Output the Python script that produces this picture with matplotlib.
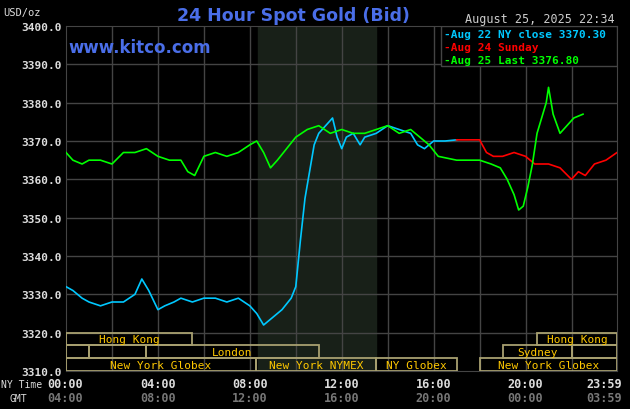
import matplotlib
matplotlib.use("Agg")
import matplotlib.pyplot as plt
from matplotlib.patches import Rectangle

# Aug 22 NY close (blue)
blue_h = [0, 0.3, 0.7, 1.0, 1.5, 2.0, 2.5, 3.0, 3.3, 3.6, 4.0, 4.3, 4.7, 5.0, 5.5, 6.0, 6.5, 7.0, 7.5, 8.0, 8.3, 8.6, 9.0, 9.4, 9.8, 10.0, 10.2, 10.4, 10.6, 10.8, 11.0, 11.3, 11.6, 11.8, 12.0, 12.2, 12.5, 12.8, 13.0, 13.5, 14.0, 14.5, 15.0, 15.3, 15.6, 16.0, 16.5, 17.0]
blue_v = [3332, 3331, 3329, 3328, 3327, 3328, 3328, 3330, 3334, 3331, 3326, 3327, 3328, 3329, 3328, 3329, 3329, 3328, 3329, 3327, 3325, 3322, 3324, 3326, 3329, 3332, 3344, 3355, 3362, 3369, 3372, 3374, 3376, 3371, 3368, 3371, 3372, 3369, 3371, 3372, 3374, 3373, 3372, 3369, 3368, 3370, 3370, 3370.3]
# Aug 24 Sunday (red)
red_h = [17.0, 18.0, 18.3, 18.6, 19.0, 19.5, 20.0, 20.4, 20.7, 21.0, 21.5, 22.0, 22.3, 22.6, 23.0, 23.5, 23.98]
red_v = [3370.3, 3370.3, 3367, 3366, 3366, 3367, 3366, 3364, 3364, 3364, 3363, 3360, 3362, 3361, 3364, 3365, 3367]
# Aug 25 Last (green)
green_h = [0, 0.3, 0.7, 1.0, 1.5, 2.0, 2.5, 3.0, 3.5, 4.0, 4.5, 5.0, 5.3, 5.6, 6.0, 6.5, 7.0, 7.5, 8.0, 8.3, 8.6, 8.9, 9.2, 9.6, 10.0, 10.5, 11.0, 11.5, 12.0, 12.5, 13.0, 13.5, 14.0, 14.5, 15.0, 15.4, 15.8, 16.2, 17.0, 17.5, 18.0, 18.5, 18.9, 19.2, 19.5, 19.7, 19.9, 20.1, 20.3, 20.5, 20.7, 20.9, 21.0, 21.2, 21.5, 21.8, 22.1, 22.5]
green_v = [3367, 3365, 3364, 3365, 3365, 3364, 3367, 3367, 3368, 3366, 3365, 3365, 3362, 3361, 3366, 3367, 3366, 3367, 3369, 3370, 3367, 3363, 3365, 3368, 3371, 3373, 3374, 3372, 3373, 3372, 3372, 3373, 3374, 3372, 3373, 3371, 3369, 3366, 3365, 3365, 3365, 3364, 3363, 3360, 3356, 3352, 3353, 3358, 3364, 3372, 3376, 3380, 3384, 3377, 3372, 3374, 3376, 3377]

yticks = [3310, 3320, 3330, 3340, 3350, 3360, 3370, 3380, 3390, 3400]
ny_labels = ["00:00", "04:00", "08:00", "12:00", "16:00", "20:00", "23:59"]
gmt_labels = ["04:00", "08:00", "12:00", "16:00", "20:00", "00:00", "03:59"]
label_hours = [0, 4, 8, 12, 16, 20, 23.98]

# sessions: (row, start, end, label)
sessions = [
    (0, 0, 5.5, "Hong Kong"), (0, 20.5, 24, "Hong Kong"),
    (1, 0, 1, ""), (1, 1, 3.5, ""), (1, 3.5, 11.0, "London"),
    (1, 19.0, 22.0, "Sydney"), (1, 22.0, 24, ""),
    (2, 0, 8.25, "New York Globex"), (2, 8.25, 13.5, "New York NYMEX"),
    (2, 13.5, 17.0, "NY Globex"), (2, 18.0, 24, "New York Globex"),
]

mono = "DejaVu Sans Mono"
fig = plt.figure(figsize=(6.3, 4.1), dpi=100, facecolor="black")
ax = fig.add_axes([66/630, 1-372/410, (617-66)/630, (372-27)/410])
ax.set_facecolor("black")
X1 = 23.98
ax.set_xlim(0, X1)
ax.set_ylim(3310, 3400)
ax.axvspan(8.35, 13.5, color="#182018", zorder=0)
for h in range(2, 24, 2):
    ax.axvline(h, color="#444444", lw=1, zorder=1)
for v in yticks[1:-1]:
    ax.axhline(v, color="#444444", lw=1, zorder=1)
for s in ax.spines.values():
    s.set_color("#444444")
ax.set_xticks([])
ax.set_yticks(yticks)
ax.set_yticklabels([f"{v:.1f}" for v in yticks], color="#dddddd", fontsize=8,
                   fontfamily=mono, fontweight="bold")
ax.tick_params(axis="y", length=0, pad=3)

rowh = 10/3
for row, a, b, lab in sessions:
    y0 = 3320 - (row+1)*rowh
    ax.add_patch(Rectangle((a, y0), min(b, X1)-a, rowh, fill=False, ec="#a8a070", lw=1.3, zorder=3))
    if lab:
        ax.text((a+min(b, X1))/2, y0+rowh/2, lab, color="#ffc800", fontsize=8,
                fontfamily=mono, ha="center", va="center", zorder=4)

ax.plot(blue_h, blue_v, color="#00c8ff", lw=1.2, zorder=5)
ax.plot(red_h, red_v, color="#ff0000", lw=1.2, zorder=5)
ax.plot(green_h, green_v, color="#00ff00", lw=1.2, zorder=6)

# legend box
ax.add_patch(Rectangle((16.3, 3389.6), X1-16.3, 10.4, fc="black", ec="#444444", lw=1, zorder=7))
leg = [("-Aug 22 NY close 3370.30", "#00c8ff"), ("-Aug 24 Sunday", "#ff0000"), ("-Aug 25 Last 3376.80", "#00ff00")]
for i, (t, c) in enumerate(leg):
    ax.text(16.45, 3397.8 - i*3.4, t, color=c, fontsize=8, fontfamily=mono,
            fontweight="bold", va="center", zorder=8)

fig.text(3/630, 1-13/410, "USD/oz", color="#dddddd", fontsize=7.5, fontfamily=mono,
         ha="left", va="center")
fig.text(0.465, 1-16/410, "24 Hour Spot Gold (Bid)", color="#4a6ee8", fontsize=12.5,
         ha="center", va="center", fontweight="bold")
fig.text(68/630, 1-48/410, "www.kitco.com", color="#4a6ee8", fontsize=12,
         ha="left", va="center", fontweight="bold")
fig.text(615/630, 1-19/410, "August 25, 2025 22:34", color="#cccccc", fontsize=8.5,
         fontfamily=mono, ha="right", va="center")
fig.text(1/630, 1-385/410, "NY Time", color="#dddddd", fontsize=7, fontfamily=mono, va="center")
fig.text(10/630, 1-399/410, "GMT", color="#dddddd", fontsize=7, fontfamily=mono, va="center")
for h, a, g in zip(label_hours, ny_labels, gmt_labels):
    xf = (66 + h/X1*(617-66))/630
    ha = "center"
    if h == 0:
        ha = "left"; xf = 47/630
    if h == X1:
        ha = "right"; xf = 622/630
    fig.text(xf, 1-385/410, a, color="#dddddd", fontsize=8.5, fontfamily=mono,
             fontweight="bold", ha=ha, va="center")
    fig.text(xf, 1-399/410, g, color="#777777", fontsize=8.5, fontfamily=mono,
             fontweight="bold", ha=ha, va="center")

fig.savefig("out.png", dpi=100, facecolor="black")
